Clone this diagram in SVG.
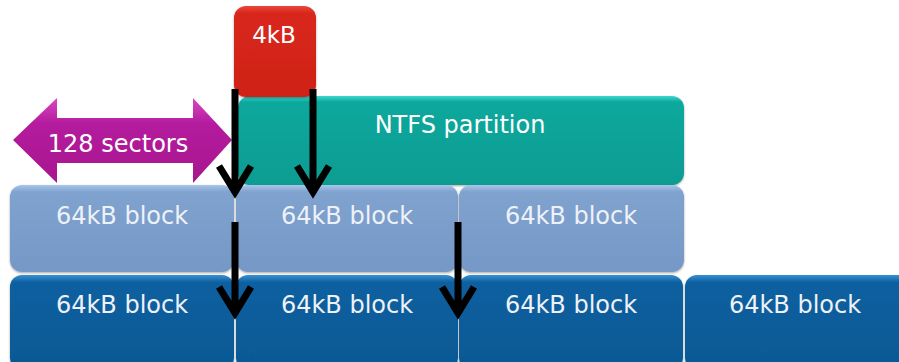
<svg xmlns="http://www.w3.org/2000/svg" width="899" height="362" viewBox="0 0 899 362">
<defs>
<linearGradient id="gRed" x1="0" y1="0" x2="0" y2="1">
<stop offset="0" stop-color="#e8493c"/><stop offset="0.08" stop-color="#d9261b"/><stop offset="1" stop-color="#cf2318"/>
</linearGradient>
<linearGradient id="gTeal" x1="0" y1="0" x2="0" y2="1">
<stop offset="0" stop-color="#3fd6cc"/><stop offset="0.07" stop-color="#0aa89d"/><stop offset="1" stop-color="#079c92"/>
</linearGradient>
<linearGradient id="gLight" x1="0" y1="0" x2="0" y2="1">
<stop offset="0" stop-color="#a9c6ea"/><stop offset="0.08" stop-color="#7fa2cf"/><stop offset="1" stop-color="#7698c6"/>
</linearGradient>
<linearGradient id="gDark" x1="0" y1="0" x2="0" y2="1">
<stop offset="0" stop-color="#3c8fd0"/><stop offset="0.08" stop-color="#0a5fa0"/><stop offset="1" stop-color="#065994"/>
</linearGradient>
<linearGradient id="gMag" x1="0" y1="0" x2="0" y2="1">
<stop offset="0" stop-color="#d648c0"/><stop offset="0.3" stop-color="#b41b9e"/><stop offset="1" stop-color="#a8168f"/>
</linearGradient>
<filter id="sh" x="-5%" y="-5%" width="110%" height="115%">
<feDropShadow dx="0" dy="1" stdDeviation="1.2" flood-color="#000" flood-opacity="0.35"/>
</filter>
</defs>
<style>
text { font-family: "DejaVu Sans", Verdana, sans-serif; fill: #ffffff; text-anchor: middle; }
.lbl { font-size: 24px; fill: #eef2f8; }
.arr { stroke: #000; stroke-width: 7; fill: none; stroke-linecap: butt; stroke-linejoin: miter; }
</style>

<g id="ntfs">
<rect x="238" y="96" width="446" height="89" rx="12" fill="url(#gTeal)" filter="url(#sh)"/>
<text x="460" y="133" class="lbl" style="fill:#fff">NTFS partition</text>
</g>
<g id="k4">
<rect x="234" y="6" width="82" height="91" rx="12" fill="url(#gRed)" filter="url(#sh)"/>
<text x="274" y="43" style="font-size:23px">4kB</text>
</g>
<g id="sectors">
<path d="M13,140 L57,98 L57,118 L193,118 L193,98 L232,140 L193,183 L193,163 L57,163 L57,183 Z" fill="url(#gMag)"/>
<text x="118" y="152" style="font-size:24px">128 sectors</text>
</g>

<g id="l1"><rect x="10" y="185" width="224" height="87" rx="12" fill="url(#gLight)" filter="url(#sh)"/><text x="122" y="224" class="lbl">64kB block</text></g>
<g id="l2"><rect x="236" y="185" width="222" height="87" rx="12" fill="url(#gLight)" filter="url(#sh)"/><text x="347" y="224" class="lbl">64kB block</text></g>
<g id="l3"><rect x="459" y="185" width="225" height="87" rx="12" fill="url(#gLight)" filter="url(#sh)"/><text x="571" y="224" class="lbl">64kB block</text></g>

<g id="d1"><rect x="10" y="275" width="224" height="95" rx="12" fill="url(#gDark)" filter="url(#sh)"/><text x="122" y="313" class="lbl">64kB block</text></g>
<g id="d2"><rect x="236" y="275" width="222" height="95" rx="12" fill="url(#gDark)" filter="url(#sh)"/><text x="347" y="313" class="lbl">64kB block</text></g>
<g id="d3"><rect x="459" y="275" width="224" height="95" rx="12" fill="url(#gDark)" filter="url(#sh)"/><text x="571" y="313" class="lbl">64kB block</text></g>
<g id="d4"><rect x="685" y="275" width="230" height="95" rx="12" fill="url(#gDark)" filter="url(#sh)"/><text x="795" y="313" class="lbl">64kB block</text></g>

<g id="connectors">
<path class="arr" d="M235,89 L235,192 M219,166 L235,192 L251,166"/>
<path class="arr" d="M313,89 L313,192 M297,166 L313,192 L329,166"/>
<path class="arr" d="M235,222 L235,313 M219,287 L235,313 L251,287"/>
<path class="arr" d="M458,222 L458,313 M442,287 L458,313 L474,287"/>
</g>
</svg>
